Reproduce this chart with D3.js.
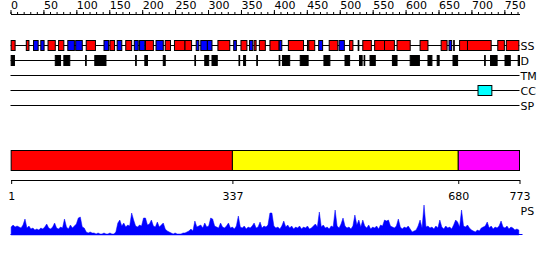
<!DOCTYPE html>
<html>
<head>
<meta charset="utf-8">
<script src="https://cdn.jsdelivr.net/npm/d3@7/dist/d3.min.js"></script>
<style>
    body { margin: 0; background: #fff; }
    svg text { font-family: "DejaVu Sans", sans-serif; font-size: 11px; fill: #000; }
</style>
</head>
<body>
<div class="wrapper"></div>
<script>
const seqLength = 773;

const majorTicks = [0, 50, 100, 150, 200, 250, 300, 350, 400, 450, 500, 550, 600, 650, 700, 750];
const minorTicks = [0, 10, 20, 30, 40, 50, 60, 70, 80, 90, 100, 110, 120, 130, 140, 150, 160, 170, 180, 190,
    200, 210, 220, 230, 240, 250, 260, 270, 280, 290, 300, 310, 320, 330, 340, 350, 360, 370, 380, 390,
    400, 410, 420, 430, 440, 450, 460, 470, 480, 490, 500, 510, 520, 530, 540, 550, 560, 570, 580, 590,
    600, 610, 620, 630, 640, 650, 660, 670, 680, 690, 700, 710, 720, 730, 740, 750, 760, 770];

const trackNames = ["SS", "D", "TM", "CC", "SP"];

// secondary structure: [start, end]
const helices = [[1, 7], [24, 28], [57, 68], [73, 81], [115, 129], [151, 158], [175, 184], [205, 217],
    [235, 243], [249, 265], [265, 275], [315, 333], [350, 359], [370, 373], [378, 387], [394, 408],
    [422, 445], [451, 452], [453, 462], [484, 497], [515, 520], [528, 529], [535, 548], [553, 568],
    [568, 583], [587, 607], [622, 634], [654, 663], [673, 674], [682, 694], [694, 730], [740, 750], [753, 772]];
const strands = [[35, 42], [46, 51], [87, 97], [99, 109], [142, 149], [162, 169], [188, 194], [196, 204],
    [221, 232], [282, 286], [289, 299], [299, 306], [339, 343], [363, 368], [408, 412], [468, 474],
    [499, 507], [666, 670]];

const disorder = [[1, 6], [68, 76], [81, 90], [114, 115], [128, 145], [190, 191], [204, 208], [232, 235],
    [280, 281], [295, 301], [306, 314], [347, 348], [354, 357], [374, 375], [408, 409], [413, 424],
    [440, 452], [476, 485], [508, 515], [530, 534], [537, 538], [546, 554], [580, 587], [607, 621],
    [634, 640], [648, 651], [672, 679], [720, 721], [729, 739], [751, 759], [771, 773]];
const transmembrane = [];
const coiledCoils = [[710, 731]];
const signalPeptides = [];

const domainStarts = [1, 337, 680];
const domainEnds = [337, 680, 773];
const domainTicks = [1, 337, 680, 773];

// PS profile, one value every psStep residues
const psStep = 3;
const psValues = [
    8, 10, 8, 9, 8, 7, 10, 16, 7, 9,
    6, 7, 5, 6, 5, 7, 6, 8, 11, 7,
    6, 8, 12, 7, 6, 8, 7, 16, 8, 6,
    10, 7, 9, 11, 17, 18, 8, 7, 3, 2,
    3, 2, 2, 1, 2, 1, 1, 2, 1, 1,
    2, 1, 1, 3, 12, 15, 9, 12, 8, 10,
    9, 22, 15, 9, 8, 10, 9, 17, 17, 10,
    11, 15, 9, 8, 13, 8, 10, 12, 6, 4,
    3, 2, 1, 2, 1, 1, 1, 2, 2, 3,
    4, 6, 4, 14, 8, 9, 10, 7, 12, 8,
    9, 17, 16, 9, 8, 7, 12, 8, 7, 9,
    12, 7, 8, 6, 9, 19, 8, 7, 9, 6,
    8, 7, 9, 12, 7, 8, 13, 7, 9, 8,
    10, 22, 22, 9, 7, 8, 6, 9, 14, 8,
    10, 7, 9, 6, 8, 7, 9, 6, 8, 7,
    9, 6, 7, 9, 11, 8, 23, 8, 10, 7,
    8, 6, 9, 8, 25, 9, 7, 11, 17, 9,
    7, 8, 6, 9, 20, 10, 15, 8, 15, 9,
    7, 10, 6, 8, 7, 9, 6, 10, 9, 15,
    14, 15, 9, 8, 7, 9, 16, 8, 6, 8,
    7, 9, 6, 3, 4, 5, 9, 15, 7, 30,
    8, 9, 7, 8, 6, 9, 7, 15, 8, 6,
    9, 7, 8, 6, 10, 15, 13, 8, 25, 9,
    8, 10, 7, 5, 4, 3, 5, 4, 7, 8,
    9, 13, 7, 9, 6, 8, 7, 9, 14, 8,
    7, 9, 6, 8, 7, 5, 6, 5];

const domainColors = ["#ff0000", "#ffff00", "#ff00ff"];

let svg;
let x;
let trackY;

drawScenario();

function drawScenario() {
    svg = d3.select(".wrapper")
        .append("svg")
        .attr("width", 550)
        .attr("height", 260);

    x = d3.scaleLinear().domain([0, seqLength]).range([10.5, 519.5]);

    drawRuler();
    drawTracks();
    drawDomains();
    drawProfile();
}

function drawRuler() {
    svg.append("g")
        .attr("transform", "translate(0,14)")
        .call(d3.axisTop(x).tickValues(minorTicks).tickSize(2).tickSizeOuter(0).tickFormat(""))
        .call(g => g.selectAll("line, path").attr("stroke", "#000"));

    svg.append("g")
        .attr("transform", "translate(0,14)")
        .call(d3.axisTop(x).tickValues(majorTicks).tickSize(4).tickSizeOuter(0).tickPadding(1))
        .call(g => g.select(".domain").remove())
        .call(g => g.selectAll("line").attr("stroke", "#000"))
        .call(g => g.selectAll("text")
            .attr("text-anchor", "start")
            .attr("font-family", null)
            .attr("font-size", null));
}

function drawTracks() {
    trackY = d3.scalePoint().domain(trackNames).range([45.5, 105.5]);

    svg.selectAll(".trackLine")
        .data(trackNames)
        .enter()
        .append("line")
        .classed("trackLine", true)
        .attr("x1", x(0))
        .attr("x2", x(seqLength))
        .attr("y1", d => trackY(d))
        .attr("y2", d => trackY(d))
        .attr("stroke", "#000");

    svg.selectAll(".trackLabel")
        .data(trackNames)
        .enter()
        .append("text")
        .classed("trackLabel", true)
        .attr("x", x(seqLength) + 1)
        .attr("y", d => trackY(d) + 4)
        .text(d => d);

    addBoxes(helices, "SS", "#ff0000", "#000");
    addBoxes(strands, "SS", "#0000ff", "#000");
    addBoxes(disorder, "D", "#000", "#000");
    addBoxes(transmembrane, "TM", "#00ff00", "#000");
    addBoxes(coiledCoils, "CC", "#00ffff", "#000");
    addBoxes(signalPeptides, "SP", "#ff8800", "#000");
}

function addBoxes(data, track, fill, stroke) {
    svg.append("g")
        .selectAll("rect")
        .data(data)
        .enter()
        .append("rect")
        .attr("x", d => x(d[0]))
        .attr("width", d => x(d[1]) - x(d[0]))
        .attr("y", trackY(track) - 5)
        .attr("height", 10)
        .attr("fill", fill)
        .attr("stroke", stroke);
}

function drawDomains() {
    svg.selectAll(".domain-box")
        .data(domainStarts)
        .enter()
        .append("rect")
        .classed("domain-box", true)
        .attr("x", d => x(d))
        .attr("width", (d, i) => x(domainEnds[i]) - x(d))
        .attr("y", 150.5)
        .attr("height", 20)
        .attr("fill", (d, i) => domainColors[i])
        .attr("stroke", "#000");

    svg.append("g")
        .attr("transform", "translate(0,180)")
        .call(d3.axisBottom(x).tickValues(domainTicks).tickSize(4).tickSizeOuter(0).tickPadding(8))
        .call(g => g.selectAll("line, path").attr("stroke", "#000"))
        .call(g => g.selectAll("text")
            .attr("font-family", null)
            .attr("font-size", null));
}

function drawProfile() {
    let y = d3.scaleLinear().domain([0, 30]).range([235, 205]);

    let area = d3.area()
        .x((d, i) => x(1 + i * psStep))
        .y0(y(0))
        .y1(d => y(d));

    svg.append("path")
        .datum(psValues)
        .attr("d", area)
        .attr("fill", "#0000ff")
        .attr("stroke", "#0000ff")
        .attr("stroke-width", 0.5);

    svg.append("line")
        .attr("x1", x(0))
        .attr("x2", x(seqLength) + 3)
        .attr("y1", y(0) - 0.5)
        .attr("y2", y(0) - 0.5)
        .attr("stroke", "#0000ff");

    svg.append("text")
        .attr("x", x(seqLength) + 1)
        .attr("y", 215)
        .text("PS");
}
</script>
</body>
</html>
